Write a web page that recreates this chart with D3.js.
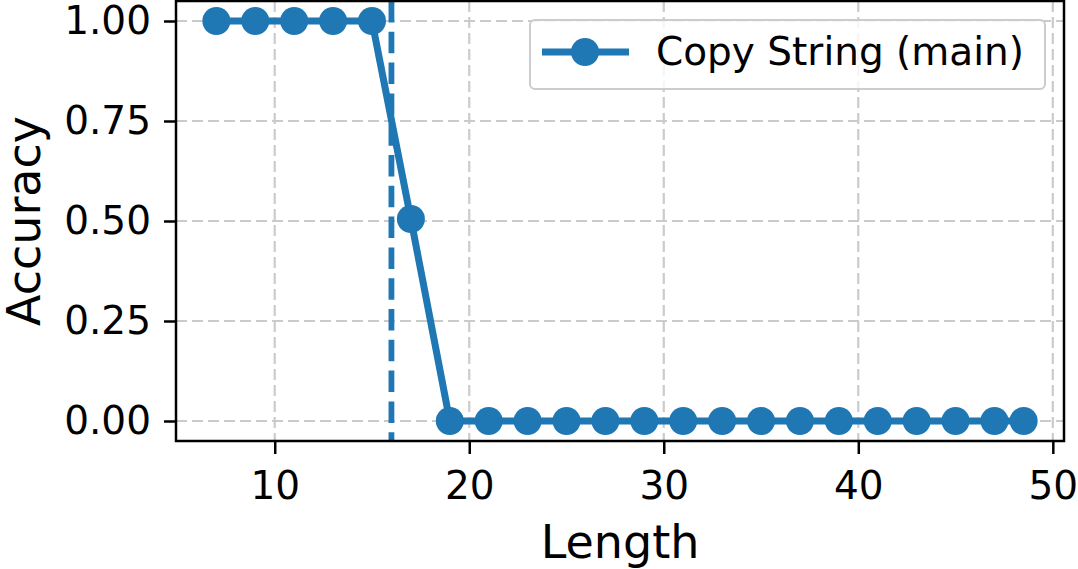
<!DOCTYPE html>
<html>
<head>
<meta charset="utf-8">
<script src="https://d3js.org/d3.v7.min.js"></script>
<style>
  body { margin: 0; background: #fff; }
  text { font-family: "DejaVu Sans", sans-serif; }
</style>
</head>
<body>
<svg id="chart"></svg>
<script>
// data
var lengths = [7, 9, 11, 13, 15, 17, 19, 21, 23, 25, 27, 29, 31, 33, 35, 37, 39, 41, 43, 45, 47, 48.5];
var accuracy = [1, 1, 1, 1, 1, 0.505, 0, 0, 0, 0, 0, 0, 0, 0, 0, 0, 0, 0, 0, 0, 0, 0];
var trainLength = 16;
var xTicks = [10, 20, 30, 40, 50];
var yTicks = [0, 0.25, 0.5, 0.75, 1.0];
var seriesName = "Copy String (main)";

var width = 1078, height = 569;
var plotL = 176, plotR = 1064, plotT = 1, plotB = 441;
var blue = "#1f77b4";

var svg = d3.select("#chart").attr("width", width).attr("height", height);

var x = d3.scaleLinear().domain([4.925, 50.575]).range([plotL, plotR]);
var y = d3.scaleLinear().domain([-0.05, 1.05]).range([plotB, plotT]);

// grid
svg.append("g").selectAll("line").data(xTicks).enter().append("line")
    .attr("x1", function (d) { return x(d); }).attr("x2", function (d) { return x(d); })
    .attr("y1", plotT).attr("y2", plotB)
    .attr("stroke", "#cbcbcb").attr("stroke-width", 2.2).attr("stroke-dasharray", "11,5");
svg.append("g").selectAll("line").data(yTicks).enter().append("line")
    .attr("y1", function (d) { return y(d); }).attr("y2", function (d) { return y(d); })
    .attr("x1", plotL).attr("x2", plotR)
    .attr("stroke", "#cbcbcb").attr("stroke-width", 2.2).attr("stroke-dasharray", "11,5");

// series
var pts = lengths.map(function (l, i) { return [l, accuracy[i]]; });
var line = d3.line().x(function (d) { return x(d[0]); }).y(function (d) { return y(d[1]); });
svg.append("path").datum(pts).attr("d", line)
    .attr("fill", "none").attr("stroke", blue).attr("stroke-width", 7).attr("stroke-linejoin", "round");
svg.append("g").selectAll("circle").data(pts).enter().append("circle")
    .attr("cx", function (d) { return x(d[0]); })
    .attr("cy", function (d) { return y(d[1]); })
    .attr("r", 14).attr("fill", blue);

// vertical dashed line
svg.append("line")
    .attr("x1", x(trainLength)).attr("x2", x(trainLength))
    .attr("y1", plotT).attr("y2", plotB)
    .attr("stroke", blue).attr("stroke-width", 5.8).attr("stroke-dasharray", "21.5,9.3");

// axes
var xAxis = d3.axisBottom(x).tickValues(xTicks).tickSize(13).tickPadding(17).tickFormat(d3.format("d"));
var yAxis = d3.axisLeft(y).tickValues(yTicks).tickSize(12).tickPadding(13).tickFormat(d3.format(".2f"));

var gx = svg.append("g").attr("transform", "translate(0," + plotB + ")").call(xAxis);
var gy = svg.append("g").attr("transform", "translate(" + plotL + ",0)").call(yAxis);
[gx, gy].forEach(function (g) {
    g.select(".domain").remove();
    g.selectAll(".tick line").attr("stroke", "#000").attr("stroke-width", 2.5);
    g.selectAll(".tick text").attr("fill", "#000").style("font-size", "39px");
});
gx.selectAll(".tick text").attr("dy", "0.73em");

// frame
svg.append("rect").attr("x", plotL).attr("y", plotT).attr("width", plotR - plotL).attr("height", plotB - plotT)
    .attr("fill", "none").attr("stroke", "#000").attr("stroke-width", 2.5);

// axis labels
svg.append("text").attr("x", (plotL + plotR) / 2).attr("y", 558)
    .attr("text-anchor", "middle").style("font-size", "46px").text("Length");
svg.append("text").attr("transform", "translate(40," + ((plotT + plotB) / 2) + ") rotate(-90)")
    .attr("text-anchor", "middle").style("font-size", "46px").text("Accuracy");

// legend
var lg = svg.append("g");
lg.append("rect").attr("x", 530).attr("y", 20).attr("width", 515).attr("height", 69).attr("rx", 5)
    .attr("fill", "#fff").attr("fill-opacity", 0.8).attr("stroke", "#cccccc").attr("stroke-width", 2);
lg.append("line").attr("x1", 542).attr("x2", 629).attr("y1", 52).attr("y2", 52)
    .attr("stroke", blue).attr("stroke-width", 7);
lg.append("circle").attr("cx", 585).attr("cy", 52).attr("r", 14).attr("fill", blue);
lg.append("text").attr("x", 656).attr("y", 65)
    .style("font-size", "39px").text(seriesName);
</script>
</body>
</html>
